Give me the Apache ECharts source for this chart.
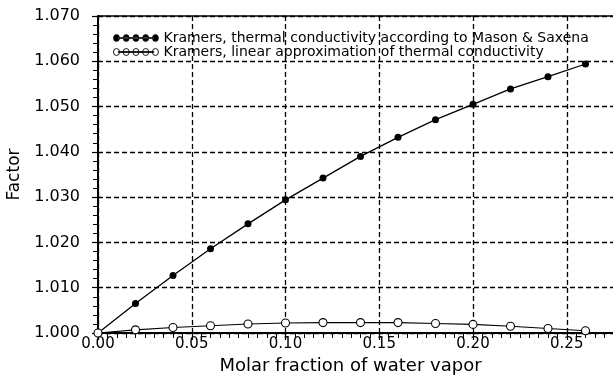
<!DOCTYPE html>
<html><head><meta charset="utf-8">
<script src="https://cdn.jsdelivr.net/npm/echarts@6/dist/echarts.min.js"></script>
<style>html,body{margin:0;padding:0;background:#fff}#c{width:613px;height:375px}</style>
</head><body><div id="c"></div>
<script>
const xValues = [0.00, 0.02, 0.04, 0.06, 0.08, 0.10, 0.12, 0.14, 0.16, 0.18, 0.20, 0.22, 0.24, 0.26];
const masonSaxena = [1.0000, 1.0065, 1.0127, 1.0186, 1.0241, 1.0294, 1.0342, 1.0390, 1.0432, 1.0471, 1.0505, 1.0539, 1.0566, 1.0594];
const linearApprox = [1.0000, 1.0007, 1.0012, 1.0016, 1.0020, 1.0022, 1.0023, 1.0023, 1.0023, 1.0021, 1.0019, 1.0015, 1.0010, 1.0005];
const seriesNames = ['Kramers, thermal conductivity according to Mason & Saxena', 'Kramers, linear approximation of thermal conductivity'];
const xTitle = 'Molar fraction of water vapor';
const yTitle = 'Factor';

const FONT = 'DejaVu Sans';
const chart = echarts.init(document.getElementById('c'), null, {renderer: 'canvas'});

function ringsPath() {
  let p = '';
  for (let i = 0; i < 5; i++) {
    const cx = 3.2 + i * 9.6;
    p += `M${cx - 3},3.5 a3,3 0 1,0 6,0 a3,3 0 1,0 -6,0 Z `;
  }
  p += 'M5,3.1 L40,3.1 L40,3.9 L5,3.9 Z';
  return 'path://' + p;
}

chart.setOption({
  animation: false,
  backgroundColor: '#fff',
  grid: {left: 98, top: 16, right: -40, bottom: 42, containLabel: false, outerBoundsMode: 'none'},
  legend: {
    left: 108, top: 26, orient: 'vertical', itemGap: 0,
    itemWidth: 45, itemHeight: 7, symbolKeepAspect: false,
    textStyle: {fontFamily: FONT, fontSize: 14, color: '#000', lineHeight: 13},
    data: [
      {name: seriesNames[0], icon: ringsPath(), itemStyle: {color: '#000', borderColor: '#000', borderWidth: 0.6}},
      {name: seriesNames[1], icon: ringsPath(), itemStyle: {color: '#fff', borderColor: '#000', borderWidth: 0.9}}
    ]
  },
  xAxis: [{
    type: 'value', min: 0, max: 0.296, interval: 0.05,
    name: xTitle, nameLocation: 'middle', nameGap: 24,
    nameTextStyle: {fontFamily: FONT, fontSize: 18, color: '#000', padding: [0, 0, 0, -50]},
    axisLine: {onZero: false, lineStyle: {color: '#000', width: 2}},
    axisTick: {show: true, length: 7, inside: false, lineStyle: {color: '#000', width: 1.2}},
    minorTick: {show: true, splitNumber: 10, length: 5, lineStyle: {color: '#000', width: 1}},
    axisLabel: {fontFamily: FONT, fontSize: 15, color: '#000', margin: 4, showMaxLabel: false,
      formatter: v => (Math.abs(v / 0.05 - Math.round(v / 0.05)) < 1e-6 ? v.toFixed(2) : '')},
    splitLine: {show: true, showMaxLine: false, lineStyle: {color: '#000', type: [5, 3], width: 1.3}}
  }, {
    type: 'value', position: 'top', min: 0, max: 0.296,
    axisLine: {show: true, lineStyle: {color: '#000', width: 1.5}},
    axisTick: {show: false}, axisLabel: {show: false}, splitLine: {show: false}
  }],
  yAxis: {
    type: 'value', min: 1.0, max: 1.07, interval: 0.01,
    name: yTitle, nameLocation: 'middle', nameGap: 72, nameRotate: 90,
    nameTextStyle: {fontFamily: FONT, fontSize: 17, color: '#000'},
    axisLine: {show: true, lineStyle: {color: '#000', width: 2}},
    axisTick: {show: true, length: 6, lineStyle: {color: '#000', width: 1.2}},
    minorTick: {show: true, splitNumber: 5, length: 5, lineStyle: {color: '#000', width: 1}},
    axisLabel: {fontFamily: FONT, fontSize: 16, color: '#000', margin: 18, formatter: v => v.toFixed(3)},
    splitLine: {show: true, lineStyle: {color: '#000', type: [5, 3], width: 1.3}}
  },
  series: [{
    name: seriesNames[0], type: 'line', xAxisIndex: 0,
    data: xValues.map((x, i) => [x, masonSaxena[i]]),
    symbol: 'circle', symbolSize: 7, showAllSymbol: true,
    lineStyle: {color: '#000', width: 1.3}, itemStyle: {color: '#000'}
  }, {
    name: seriesNames[1], type: 'line', xAxisIndex: 0,
    data: xValues.map((x, i) => [x, linearApprox[i]]),
    symbol: 'circle', symbolSize: 8, showAllSymbol: true,
    lineStyle: {color: '#000', width: 1.1},
    itemStyle: {color: '#fff', borderColor: '#000', borderWidth: 1.1}
  }]
});
</script></body></html>
